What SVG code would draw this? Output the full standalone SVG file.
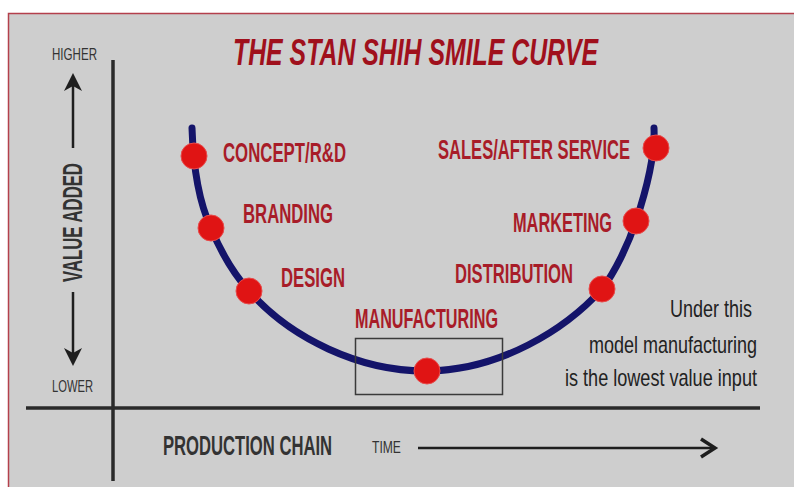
<svg xmlns="http://www.w3.org/2000/svg" width="794" height="487" viewBox="0 0 794 487">
<style>
.lbl{font-family:"Liberation Sans",Arial,sans-serif;font-weight:bold;font-size:27px;fill:#a81c28}
.axt{font-family:"Liberation Sans",Arial,sans-serif;fill:#333}
.note{font-family:"Liberation Sans",Arial,sans-serif;font-size:23px;fill:#222}
.dot{fill:#e01414;stroke:#e84a4a;stroke-width:1}
.ax{stroke:#2a2a2a;stroke-width:3.5;fill:none}
.arr{stroke:#1e1e1e;stroke-width:2.5;fill:none}
</style>
<rect x="0" y="0" width="794" height="487" fill="#ffffff"/>
<rect x="8.5" y="13.5" width="800" height="480" fill="#cecece" stroke="#b4404c" stroke-width="1.5"/>
<g id="title">
<text transform="translate(233,65) scale(0.67,1)" x="0" y="0" font-family="Liberation Sans,Arial,sans-serif" font-weight="bold" font-style="italic" font-size="37" fill="#a0101c" textLength="545" lengthAdjust="spacingAndGlyphs">THE STAN SHIH SMILE CURVE</text>
</g>
<g id="connectors">
<line class="ax" x1="113" y1="60" x2="113" y2="481"/>
<line class="ax" x1="26" y1="408" x2="760" y2="408"/>
<line class="arr" x1="73" y1="84" x2="73" y2="148"/>
<polygon points="73,73 64,91 73,86 82,91" fill="#1e1e1e"/>
<line class="arr" x1="73" y1="292" x2="73" y2="355"/>
<polygon points="73,366 64,348 73,353 82,348" fill="#1e1e1e"/>
<line class="arr" x1="418" y1="448" x2="713" y2="448" stroke-width="3"/>
<polyline points="701,439 715,448 701,457" fill="none" stroke="#1e1e1e" stroke-width="3.5"/>
<path d="M192,128 C193,160 198,200 211,228 C220,250 233,273 249,291 C290,338 360,372 428,371 C500,370 565,330 602,289 C615,272 628,245 636,221 C648,185 655,150 654,128" fill="none" stroke="#14146a" stroke-width="7" stroke-linecap="round"/>
<rect x="355.5" y="338.5" width="147" height="56" fill="none" stroke="#3a3a3a" stroke-width="1.5"/>
</g>
<g id="axis-labels">
<text class="axt" transform="translate(52,60) scale(0.72,1)" x="0" y="0" font-size="16" textLength="62.5" lengthAdjust="spacingAndGlyphs" fill="#444">HIGHER</text>
<text class="axt" transform="translate(52,392) scale(0.70,1)" x="0" y="0" font-size="16" textLength="58.6" lengthAdjust="spacingAndGlyphs" fill="#444">LOWER</text>
<text class="axt" transform="translate(82,282) rotate(-90) scale(0.61,1)" x="0" y="0" font-size="27" font-weight="bold" textLength="195" lengthAdjust="spacingAndGlyphs" fill="#2a2a2a">VALUE ADDED</text>
<text class="axt" transform="translate(163,455) scale(0.616,1)" x="0" y="0" font-size="27" font-weight="bold" textLength="274.4" lengthAdjust="spacingAndGlyphs" fill="#2a2a2a">PRODUCTION CHAIN</text>
<text class="axt" transform="translate(372,453) scale(0.71,1)" x="0" y="0" font-size="17" textLength="40.8" lengthAdjust="spacingAndGlyphs" fill="#333">TIME</text>
</g>
<g id="concept">
<circle class="dot" cx="194" cy="156" r="13"/>
<text class="lbl" transform="translate(223,162) scale(0.62,1)" x="0" y="0" textLength="198.4" lengthAdjust="spacingAndGlyphs">CONCEPT/R&amp;D</text>
</g>
<g id="branding">
<circle class="dot" cx="211" cy="228" r="13"/>
<text class="lbl" transform="translate(243,223) scale(0.62,1)" x="0" y="0" textLength="145.2" lengthAdjust="spacingAndGlyphs">BRANDING</text>
</g>
<g id="design">
<circle class="dot" cx="249" cy="291" r="13"/>
<text class="lbl" transform="translate(281,287) scale(0.62,1)" x="0" y="0" textLength="103.2" lengthAdjust="spacingAndGlyphs">DESIGN</text>
</g>
<g id="manufacturing">
<circle class="dot" cx="427" cy="371" r="13"/>
<text class="lbl" transform="translate(355,328) scale(0.555,1)" x="0" y="0" textLength="257.7" lengthAdjust="spacingAndGlyphs">MANUFACTURING</text>
</g>
<g id="distribution">
<circle class="dot" cx="602" cy="289" r="13"/>
<text class="lbl" transform="translate(455,283) scale(0.615,1)" x="0" y="0" textLength="191.9" lengthAdjust="spacingAndGlyphs">DISTRIBUTION</text>
</g>
<g id="marketing">
<circle class="dot" cx="636" cy="221" r="13"/>
<text class="lbl" transform="translate(513,232) scale(0.605,1)" x="0" y="0" textLength="163.6" lengthAdjust="spacingAndGlyphs">MARKETING</text>
</g>
<g id="sales">
<circle class="dot" cx="656" cy="148" r="13"/>
<text class="lbl" transform="translate(438,159) scale(0.612,1)" x="0" y="0" textLength="313.7" lengthAdjust="spacingAndGlyphs">SALES/AFTER SERVICE</text>
</g>
<g id="note">
<text class="note" transform="translate(670,317) scale(0.78,1)" x="0" y="0" textLength="105.1" lengthAdjust="spacingAndGlyphs">Under this</text>
<text class="note" transform="translate(589,353) scale(0.78,1)" x="0" y="0" textLength="215.4" lengthAdjust="spacingAndGlyphs">model manufacturing</text>
<text class="note" transform="translate(565,386) scale(0.79,1)" x="0" y="0" textLength="243" lengthAdjust="spacingAndGlyphs">is the lowest value input</text>
</g>
</svg>
